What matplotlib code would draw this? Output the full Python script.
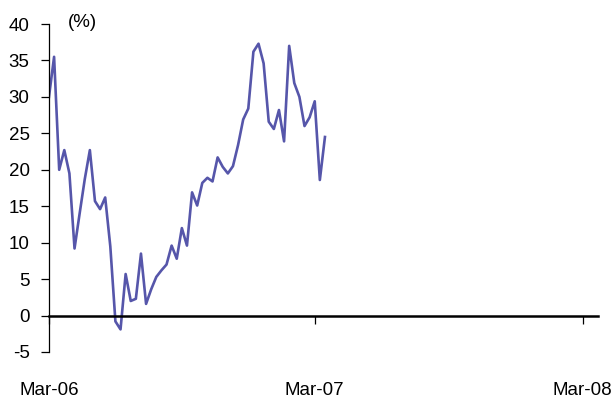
import pandas as pd
import numpy as np
import matplotlib.pyplot as plt

plt.rcParams['font.family'] = ['Liberation Sans Narrow', 'Liberation Sans', 'DejaVu Sans']
plt.rcParams['axes.unicode_minus'] = False

# weekly series, Mar-06 to Mar-07 (%)
start = '2006-03-03'
values = [30.0, 35.5, 20.0, 22.7, 19.5, 9.2, 14.0, 18.7, 22.7, 15.7,
          14.6, 16.2, 9.5, -0.8, -1.9, 5.7, 2.0, 2.3, 8.5, 1.6,
          3.6, 5.3, 6.2, 7.0, 9.6, 7.8, 12.0, 9.6, 16.9, 15.1,
          18.2, 18.9, 18.4, 21.7, 20.4, 19.5, 20.5, 23.4, 26.9, 28.4,
          36.2, 37.3, 34.6, 26.6, 25.6, 28.2, 23.9, 37.0, 31.9, 30.0,
          26.0, 27.2, 29.4, 18.6, 24.5]
dates = pd.date_range(start, periods=len(values), freq='7D')

tick_dates = pd.to_datetime(['2006-03-03', '2007-03-02', '2008-03-03'])
tick_labels = ['Mar-06', 'Mar-07', 'Mar-08']
y_ticks = np.arange(-5, 41, 5)

fig = plt.figure(figsize=(6.16, 3.99), dpi=100)
ax = fig.add_axes([0.0795, 0.1178, 0.8913, 0.822])

ax.plot(dates, values, color='#5656AA', lw=1.9)

ax.set_xlim(pd.Timestamp('2006-03-03'), pd.Timestamp('2008-03-24'))
ax.set_ylim(-5, 40)
ax.set_yticks(y_ticks)
ax.set_xticks(tick_dates)
ax.set_xticklabels(tick_labels)

for s in ['top', 'right']:
    ax.spines[s].set_visible(False)
ax.spines['bottom'].set_position(('data', 0))
ax.spines['bottom'].set_linewidth(1.8)
ax.spines['left'].set_linewidth(0.9)

ax.tick_params(axis='y', direction='out', length=6, width=0.9, pad=8, labelsize=13.5)
ax.tick_params(axis='x', direction='out', length=6, width=0.9, pad=42, labelsize=13.5)

ax.text(0.034, 1.006, '(%)', transform=ax.transAxes, fontsize=13.5, va='center', ha='left')

fig.savefig('out.png', dpi=100)
